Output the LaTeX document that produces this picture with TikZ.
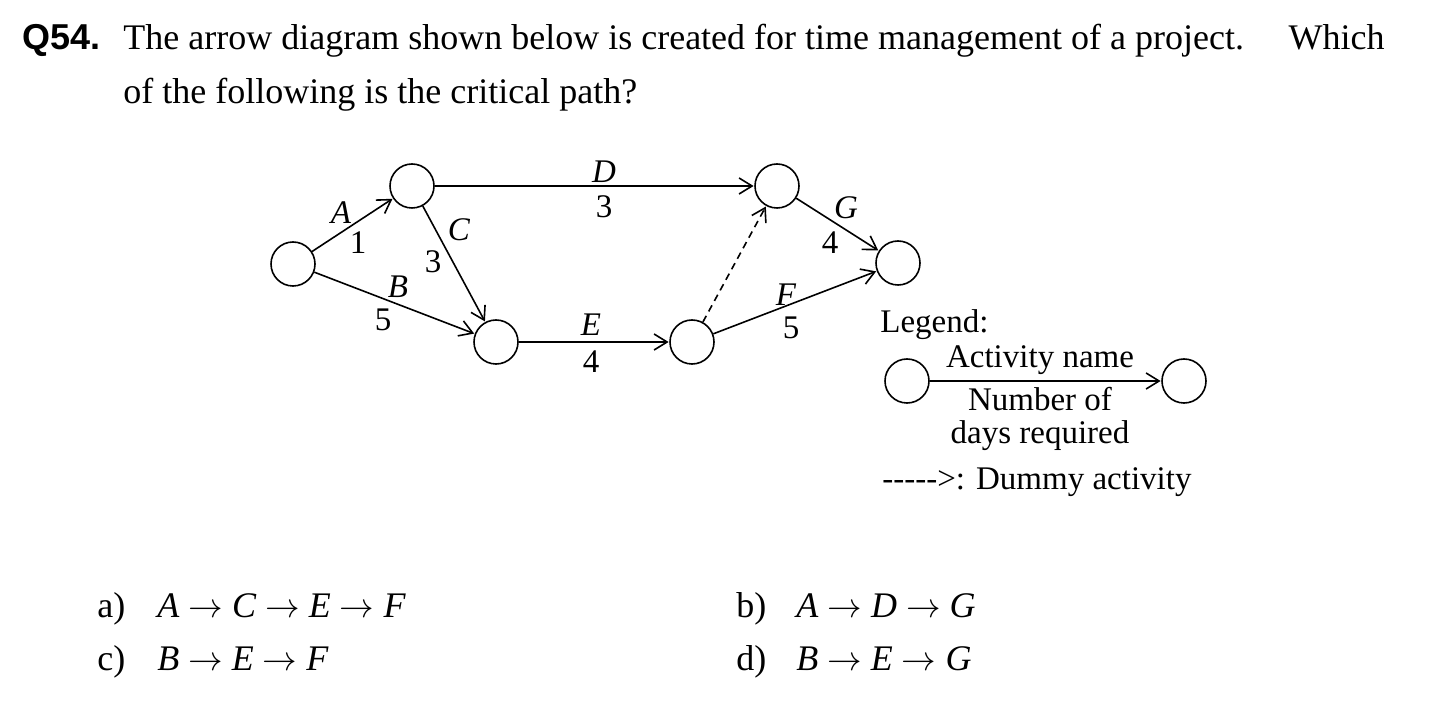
\documentclass[tikz,border=0pt]{standalone}
\usepackage{fontspec}
\setmainfont{Liberation Serif}
\newfontfamily\hv{Liberation Sans}
\usetikzlibrary{arrows.meta}
\newcommand{\ra}{\ensuremath{\rightarrow}}
\begin{document}
\begin{tikzpicture}[x=0.5pt,y=-0.5pt,
  ev/.style={circle,draw,line width=0.8pt,minimum size=22pt,inner sep=0pt},
  act/.style={line width=0.8pt,-{Straight Barb[length=6.5pt,width=8pt,line width=0.8pt]},shorten >=0.3pt},
  dummy/.style={act,dash pattern=on 3.5pt off 2.5pt},
  lab/.style={font=\fontsize{16.5pt}{16.5pt}\selectfont,inner sep=0pt},
  ttl/.style={font=\fontsize{18pt}{27pt}\selectfont,inner sep=0pt},
  opt/.style={font=\fontsize{18pt}{22pt}\selectfont,inner sep=0pt,anchor=base west}]
\useasboundingbox (0,0) rectangle (1449,726);
% title
\node[ttl,anchor=base west] (q) at (22,50) {\hv\bfseries Q54.};
\node[ttl,anchor=base west] (t1) at (123,50) {The arrow diagram shown below is created for time management of a project.};
\node[ttl,anchor=base east] (t1b) at (1385,50) {Which};
\node[ttl,anchor=base west] (t2) at (123,104) {of the following is the critical path?};
% events
\node[ev] (n1) at (293,264) {};
\node[ev] (n2) at (412,186) {};
\node[ev] (n3) at (496,342) {};
\node[ev] (n4) at (777,186) {};
\node[ev] (n5) at (692,342) {};
\node[ev] (n6) at (898,263) {};
% activities
\draw[act] (n1) -- (n2);
\draw[act] (n1) -- (n3);
\draw[act] (n2) -- (n3);
\draw[act] (n2) -- (n4);
\draw[act] (n3) -- (n5);
\draw[dummy] (n5) -- (n4);
\draw[act] (n4) -- (n6);
\draw[act] (n5) -- (n6);
% labels
\node[lab] (la) at (341,213) {\textit{A}};
\node[lab] (da) at (358,243) {1};
\node[lab] (lc) at (459,230) {\textit{C}};
\node[lab] (dc) at (433,262) {3};
\node[lab] (lb) at (398,287) {\textit{B}};
\node[lab] (db) at (383,320) {5};
\node[lab] (ld) at (604,172) {\textit{D}};
\node[lab] (dd) at (604,207) {3};
\node[lab] (le) at (591,325) {\textit{E}};
\node[lab] (de) at (591,362) {4};
\node[lab] (lg) at (846,208) {\textit{G}};
\node[lab] (dg) at (830,243) {4};
\node[lab] (lf) at (786,295) {\textit{F}};
\node[lab] (df) at (791,328) {5};
% legend
\node[lab,anchor=west] (lg0) at (880,325) {Legend:};
\node[ev] (lc1) at (907,381) {};
\node[ev] (lc2) at (1184,381) {};
\draw[act] (lc1) -- (lc2);
\node[lab] (lg1) at (1040,360) {Activity name};
\node[lab,align=center] (lg2) at (1040,419) {Number of\\days required};
\node[lab,anchor=west] (lg4) at (882,482) {-{}-{}-{}-{}->: Dummy activity};
% options
\node[opt] (oa) at (97,617) {a)\hspace{16pt}\textit{A} \ra{} \textit{C} \ra{} \textit{E} \ra{} \textit{F}};
\node[opt] (ob) at (736,617) {b)\hspace{15pt}\textit{A} \ra{} \textit{D} \ra{} \textit{G}};
\node[opt] (oc) at (97,670) {c)\hspace{16pt}\textit{B} \ra{} \textit{E} \ra{} \textit{F}};
\node[opt] (od) at (736,670) {d)\hspace{15pt}\textit{B} \ra{} \textit{E} \ra{} \textit{G}};
\end{tikzpicture}
\end{document}
